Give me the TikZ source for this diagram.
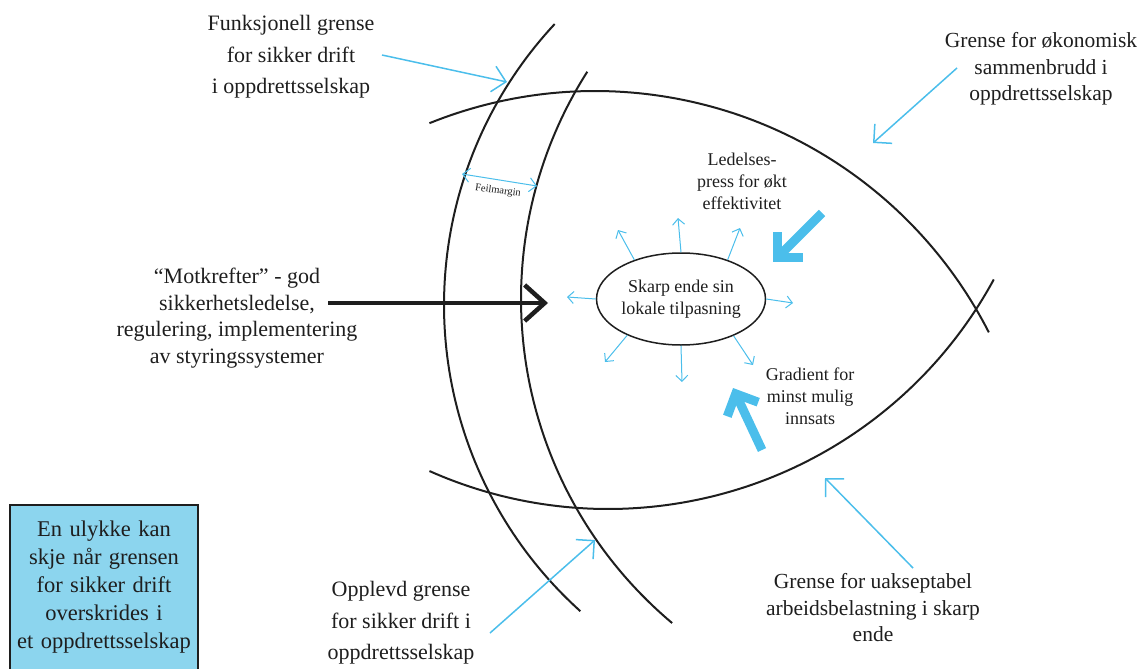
\documentclass[tikz,border=0pt]{standalone}
\usepackage{fontspec}
\setmainfont{Liberation Serif}
\usetikzlibrary{arrows.meta,shapes.geometric}
\definecolor{skyline}{RGB}{75,190,235}
\definecolor{boxfill}{RGB}{140,213,238}
\definecolor{ink}{RGB}{30,30,30}

\begin{document}
\begin{tikzpicture}[x=1pt,y=-1pt,
  boundary/.style={ink, line width=2pt},
  caption/.style={text=ink, align=center, inner sep=0pt},
  bigfont/.style={font=\fontsize{22}{31.5}\selectfont},
  pointer/.style={skyline, line width=1.5pt, -{Straight Barb[length=13pt,width=26pt]}},
  radial/.style={skyline, line width=1pt, -{Straight Barb[length=6pt,width=12pt]}},
  margin/.style={skyline, line width=1pt, {Straight Barb[length=7pt,width=14pt]}-{Straight Barb[length=7pt,width=14pt]}},
  pressure/.style={skyline, line width=9pt, line join=miter},
  counter/.style={ink, line width=4.5pt, -{Straight Barb[length=20pt,width=36pt]}}
]
\useasboundingbox (0,0) rectangle (1140,669);

% the lens: upper and lower bounding curves
\draw[boundary] plot[domain=-112:-27, samples=90] ({595+442*cos(\x)},{533+442*sin(\x)});
\draw[boundary] plot[domain=28.5:114, samples=90] ({608+439*cos(\x)},{70+439*sin(\x)});

% the two safety boundaries on the left
\draw[boundary] plot[domain=132:223, samples=90] ({856+412*cos(\x)},{305+412*sin(\x)});
\draw[boundary] plot[domain=130:212.5, samples=90] ({944+423*cos(\x)},{299+423*sin(\x)});

% central node with its radial arrows
\node[draw=ink, line width=1.5pt, ellipse, minimum width=154pt, minimum height=92pt,
      inner sep=0pt, caption, font=\fontsize{18}{22}\selectfont] (core) at (681,299)
      {Skarp ende sin\\lokale tilpasning};
\coordinate (r-l)  at (567,297);
\coordinate (r-ul) at (618,230);
\coordinate (r-u)  at (678,218);
\coordinate (r-ur) at (740,228);
\coordinate (r-r)  at (793,303);
\coordinate (r-lr) at (753,365);
\coordinate (r-d)  at (682,382);
\coordinate (r-ll) at (605,362);
\draw[radial] (core.180) -- (r-l);
\draw[radial] (core.140) -- (r-ul);
\draw[radial] (core.90)  -- (r-u);
\draw[radial] (core.40)  -- (r-ur);
\draw[radial] (core.0)   -- (r-r);
\draw[radial] (core.-35) -- (r-lr);
\draw[radial] (core.-90) -- (r-d);
\draw[radial] (core.-146) -- (r-ll);

% text labels
\node[caption, bigfont] (funk) at (291,57) {Funksjonell grense\\for sikker drift\\i oppdrettsselskap};
\node[caption, font=\fontsize{21.5}{26.5}\selectfont] (okon) at (1041,69) {Grense for økonomisk\\sammenbrudd i\\oppdrettsselskap};
\node[caption, font=\fontsize{18}{22}\selectfont] (ledelse) at (742,181) {Ledelses-\\press for økt\\effektivitet};
\node[caption, font=\fontsize{18}{22}\selectfont] (gradient) at (810,396) {Gradient for\\minst mulig\\innsats};
\node[caption, font=\fontsize{22}{26.7}\selectfont] (motkrefter) at (237,318) {“Motkrefter” - god\\sikkerhetsledelse,\\regulering, implementering\\av styringssystemer};
\node[caption, bigfont] (opplevd) at (401,623) {Opplevd grense\\for sikker drift i\\oppdrettsselskap};
\node[caption, font=\fontsize{21.5}{26.5}\selectfont] (uaksept) at (873,608) {Grense for uakseptabel\\arbeidsbelastning i skarp\\ende};
\node[caption, rotate=-8, font=\fontsize{10.5}{12}\selectfont] (feil) at (498,191) {Feilmargin};

% accident box
\node[draw=ink, fill=boxfill, line width=1.2pt, minimum width=188pt, minimum height=165pt,
      inner sep=0pt, text width=188pt, caption, font=\fontsize{22.5}{28}\selectfont] (ulykke) at (104,587.5)
      {En ulykke kan\\skje når grensen\\for sikker drift\\overskrides i\\et oppdrettsselskap};

% pointers to the boundaries
\coordinate (p-funk) at (382,55);   \coordinate (t-funk) at (507,82);
\coordinate (p-okon) at (957,68);   \coordinate (t-okon) at (873,143);
\coordinate (p-oppl) at (490,633);  \coordinate (t-oppl) at (595,540);
\coordinate (p-uaks) at (913,568);  \coordinate (t-uaks) at (825,478);
\draw[pointer] (p-funk) -- (t-funk);
\draw[pointer] (p-okon) -- (t-okon);
\draw[pointer] (p-oppl) -- (t-oppl);
\draw[pointer] (p-uaks) -- (t-uaks);

% error margin between the two boundaries
\coordinate (m-a) at (462,174);
\coordinate (m-b) at (537,186);
\draw[margin] (m-a) -- (m-b);

% counter forces
\coordinate (mk-start) at (328,303);
\coordinate (mk-tip) at (548,303);
\draw[counter] (mk-start) -- (mk-tip);

% management pressure arrow
\coordinate (lp-start) at (822,213);
\coordinate (lp-tip) at (777.5,257.5);
\coordinate (lp-a) at (777.5,232);
\coordinate (lp-b) at (803,257.5);
\draw[pressure] (lp-start) -- (lp-tip);
\draw[pressure] (lp-a) -- (lp-tip) -- (lp-b);

% least effort gradient arrow
\coordinate (gr-start) at (762,450);
\coordinate (gr-tip) at (735.7,393.8);
\coordinate (gr-a) at (727.3,416.3);
\coordinate (gr-b) at (758.2,402.2);
\draw[pressure] (gr-start) -- (gr-tip);
\draw[pressure] (gr-a) -- (gr-tip) -- (gr-b);
\end{tikzpicture}
\end{document}
